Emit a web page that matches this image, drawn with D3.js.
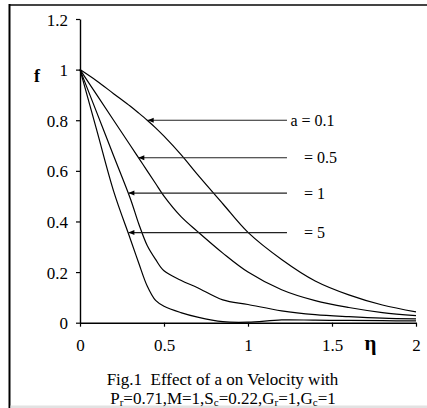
<!DOCTYPE html>
<html>
<head>
<meta charset="utf-8">
<script src="https://cdn.jsdelivr.net/npm/d3@7/dist/d3.min.js"></script>
<style>
  html, body { margin: 0; padding: 0; background: #fff; }
  svg { display: block; }
  svg text { font-family: "Liberation Serif", "Times New Roman", serif !important; fill: #000; }
</style>
</head>
<body>
<svg id="chart" width="427" height="408"></svg>
<script>
// Similarity variable eta (shared grid for every profile)
const eta = [0, 0.1, 0.2, 0.3, 0.35, 0.4, 0.45, 0.5, 0.6, 0.7, 0.85, 1.0, 1.2, 1.4, 1.6, 1.8, 2.0];

// Velocity profiles f(eta) for each value of a
const fA01 = [1, 0.955, 0.905, 0.855, 0.828, 0.80, 0.77, 0.737, 0.665, 0.585, 0.47, 0.357, 0.25, 0.165, 0.11, 0.07, 0.043];
const fA05 = [1, 0.90, 0.80, 0.70, 0.65, 0.60, 0.55, 0.50, 0.42, 0.36, 0.275, 0.20, 0.13, 0.087, 0.06, 0.04, 0.028];
const fA1  = [1, 0.83, 0.66, 0.49, 0.39, 0.305, 0.25, 0.205, 0.168, 0.138, 0.09, 0.072, 0.047, 0.032, 0.024, 0.018, 0.015];
const fA5  = [1, 0.76, 0.52, 0.33, 0.235, 0.145, 0.088, 0.065, 0.04, 0.022, 0.004, 0.002, 0.011, 0.01, 0.009, 0.008, 0.007];
const profiles = [fA01, fA05, fA1, fA5];

// Curve labels and the point each pointer arrow touches
const curveLabels = ["a = 0.1", "= 0.5", "= 1", "= 5"];
const arrowEta = [0.403, 0.347, 0.288, 0.288];
const arrowF   = [0.80, 0.652, 0.512, 0.356];

// Axis ticks
const xTicks = [0, 0.5, 1, 1.5, 2];
const xTickLabels = ["0", "0.5", "1", "1.5", "2"];
const yTicks = [0, 0.2, 0.4, 0.6, 0.8, 1, 1.2];
const yTickLabels = ["0", "0.2", "0.4", "0.6", "0.8", "1", "1.2"];

const svg = d3.select("#chart");

// Outer frame
svg.append("line").attr("x1", 9.5).attr("x2", 427).attr("y1", 5).attr("y2", 5)
  .attr("stroke", "#444").attr("stroke-width", 2);
svg.append("line").attr("x1", 9.5).attr("x2", 9.5).attr("y1", 4).attr("y2", 408)
  .attr("stroke", "#000").attr("stroke-width", 2);
svg.append("line").attr("x1", 10.5).attr("x2", 427).attr("y1", 406.8).attr("y2", 406.8)
  .attr("stroke", "#e2e2e2").attr("stroke-width", 2.4);

const x = d3.scaleLinear().domain([0, 2]).range([80, 416]);
const y = d3.scaleLinear().domain([0, 1.2]).range([322.7, 19]);

// Axes
const yAxis = d3.axisLeft(y).tickValues(yTicks).tickSize(4).tickSizeOuter(0).tickPadding(8)
  .tickFormat((d, i) => yTickLabels[i]);
const xAxis = d3.axisBottom(x).tickValues(xTicks).tickSize(4).tickSizeOuter(0).tickPadding(12)
  .tickFormat((d, i) => xTickLabels[i]);

const gy = svg.append("g").attr("transform", "translate(80,0)").call(yAxis);
const gx = svg.append("g").attr("transform", "translate(0,322.7)").call(xAxis);
[gx, gy].forEach(g => {
  g.attr("font-family", "Liberation Serif").attr("font-size", 17);
  g.select(".domain").attr("stroke", "#000").attr("stroke-width", 1.4);
  g.selectAll(".tick line").attr("stroke", "#000").attr("stroke-width", 1.2);
  g.selectAll(".tick text").attr("fill", "#000");
});
gy.selectAll(".tick text").attr("dy", "0.36em");

// Profiles
const line = d3.line()
  .x((d, i) => x(eta[i]))
  .y(d => y(d))
  .curve(d3.curveCatmullRom.alpha(0.5));

svg.append("g").selectAll("path").data(profiles).join("path")
  .attr("d", line)
  .attr("fill", "none")
  .attr("stroke", "#000")
  .attr("stroke-width", 1.2);

// Pointer arrows with labels
const arrowEnd = 1.232;
const ag = svg.append("g");
curveLabels.forEach((lab, i) => {
  const tx = x(arrowEta[i]), ty = y(arrowF[i]);
  ag.append("line").attr("x1", tx).attr("x2", x(arrowEnd)).attr("y1", ty).attr("y2", ty)
    .attr("stroke", "#222").attr("stroke-width", 1.1);
  ag.append("path")
    .attr("d", `M${tx},${ty}L${tx + 6},${ty - 2.5}L${tx + 6},${ty + 2.5}Z`)
    .attr("fill", "#000");
  ag.append("text")
    .attr("x", i === 0 ? x(arrowEnd) + 3.5 : x(arrowEnd) + 17)
    .attr("y", ty + 5.5)
    .attr("font-size", 16)
    .text(lab);
});

// Axis titles
svg.append("text").attr("x", 34).attr("y", 81.5)
  .attr("font-size", 18).attr("font-weight", "bold").text("f");
svg.append("text").attr("x", 370.5).attr("y", 350).attr("text-anchor", "middle")
  .attr("font-size", 21).attr("font-weight", "bold").text("η");

// Caption
svg.append("text").attr("x", 222.5).attr("y", 385).attr("text-anchor", "middle")
  .attr("font-size", 17).attr("xml:space", "preserve").text("Fig.1  Effect of a on Velocity with");

const cap = svg.append("text").attr("x", 223).attr("y", 403.5).attr("text-anchor", "middle")
  .attr("font-size", 17);
const parts = [["P", "r"], ["=0.71,M=1,S", "c"], ["=0.22,G", "r"], ["=1,G", "c"], ["=1", null]];
let lowered = false;
parts.forEach(([main, sub]) => {
  cap.append("tspan").attr("font-size", 17).attr("dy", lowered ? -2.5 : 0).text(main);
  lowered = false;
  if (sub) {
    cap.append("tspan").attr("font-size", 11).attr("dy", 2.5).text(sub);
    lowered = true;
  }
});
</script>
</body>
</html>
